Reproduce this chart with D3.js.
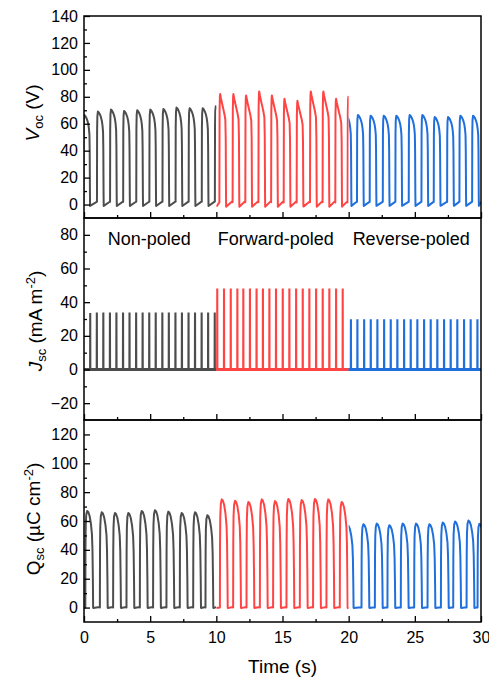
<!DOCTYPE html>
<html>
<head>
<meta charset="utf-8">
<script src="https://cdn.jsdelivr.net/npm/d3@7"></script>
<style>
body { margin: 0; background: #fff; }
svg text { font-family: "Liberation Sans", Arial, sans-serif; fill: #000; }
</style>
</head>
<body>
<svg width="489" height="684"></svg>
<script>
// ---- values ----
const timeTicks = [0, 5, 10, 15, 20, 25, 30];
const timeMinor = [2.5, 7.5, 12.5, 17.5, 22.5, 27.5];
const segments = [[0, 10], [10, 20], [20, 30]];
const segNames = ["Non-poled", "Forward-poled", "Reverse-poled"];
const segLabelAt = [1.8, 10.1, 20.3];
const colors = ["#4d4d4d", "#ff4444", "#1f6fdc"];

// open-circuit voltage (V): rise time of each pulse and its peak
const vocTicks = [0, 20, 40, 60, 80, 100, 120, 140];
const vocMinor = [10, 30, 50, 70, 90, 110, 130];
const vocRise = [
    [-0.05, 0.98, 1.97, 2.96, 3.95, 4.94, 5.93, 6.92, 7.91, 8.90, 9.89],
    [10.23, 11.23, 12.19, 13.18, 14.14, 15.09, 16.07, 17.08, 18.03, 18.99, 19.92],
    [19.7, 20.63, 21.59, 22.58, 23.53, 24.54, 25.5, 26.43, 27.44, 28.37, 29.33]
];
const vocPeak = [
    [66.5, 69, 70.5, 69.5, 70, 70.5, 71, 72, 71.5, 71.5, 73],
    [82, 82, 81, 84, 81, 78.5, 77, 84, 84, 78.5, 80],
    [67, 66.5, 66, 66, 66, 66.5, 66.5, 65, 65, 66, 66]
];
// pulse outlines: [seconds after rise, fraction of peak]
const roundShape = [[0, 0.03], [0.01, 0.8], [0.03, 0.95], [0.07, 1.0], [0.14, 0.99], [0.22, 0.97],
    [0.3, 0.94], [0.37, 0.9], [0.42, 0.85], [0.46, 0.78], [0.48, 0.6], [0.5, 0.1], [0.51, -0.015]];
const peakedShape = [[0, 0.02], [0.015, 0.85], [0.04, 0.98], [0.06, 1.0], [0.12, 0.96], [0.25, 0.89],
    [0.38, 0.82], [0.45, 0.77], [0.48, 0.6], [0.5, 0.1], [0.51, -0.02]];
const vocBaseEnd = 0.03;

// short-circuit current density (mA m-2): spike times and heights
const jscTicks = [-20, 0, 20, 40, 60, 80];
const jscMinor = [-10, 10, 30, 50, 70];
const jscTime = [
    [0.47, 0.97, 1.46, 1.96, 2.45, 2.95, 3.44, 3.94, 4.43, 4.93, 5.42, 5.92, 6.41, 6.91, 7.40, 7.90, 8.39, 8.89, 9.38, 9.88],
    [10.07, 10.58, 11.09, 11.59, 12.04, 12.54, 13.04, 13.52, 14.01, 14.51, 15.02, 15.52, 16.03, 16.53, 17.03, 17.54, 18.04, 18.54, 19.05, 19.55],
    [20.17, 20.66, 21.17, 21.67, 22.17, 22.68, 23.18, 23.68, 24.19, 24.69, 25.19, 25.7, 26.2, 26.7, 27.21, 27.71, 28.21, 28.72, 29.22, 29.73]
];
const jscPeak = [
    [33, 33.3, 33.3, 33.3, 33.3, 33.3, 33.3, 33.3, 33.3, 33.3, 33.3, 33.3, 33.3, 33.3, 33.3, 33.3, 33.3, 33.3, 33.3, 33.3],
    [47.5, 47.5, 47.5, 47.5, 47.5, 47.5, 47.5, 47.5, 47.5, 47.5, 47.5, 47.5, 47.5, 47.5, 47.5, 47.5, 47.5, 47.5, 47.5, 47.5],
    [29.3, 29.3, 29.3, 29.3, 29.3, 29.3, 29.3, 29.3, 29.3, 29.3, 29.3, 29.3, 29.3, 29.3, 29.3, 29.3, 29.3, 29.3, 29.3, 29.3]
];
const jscBase = 0;

// short-circuit charge (uC cm-2)
const qscTicks = [0, 20, 40, 60, 80, 100, 120];
const qscMinor = [10, 30, 50, 70, 90, 110];
const qscRise = [
    [0.1, 1.2, 2.2, 3.21, 4.22, 5.22, 6.23, 7.24, 8.25, 9.18],
    [10.27, 11.27, 12.28, 13.29, 14.29, 15.3, 16.31, 17.31, 18.32, 19.33],
    [19.78, 20.97, 21.98, 22.93, 23.94, 24.95, 25.96, 26.97, 27.9, 28.91, 29.74]
];
const qscPeak = [
    [67, 66, 65.5, 65.5, 67, 67.5, 66.5, 65.5, 66, 64],
    [75, 74, 73.2, 75, 73.8, 75.2, 74.5, 75.2, 75, 73.2],
    [57, 57.8, 58.2, 57.1, 58.2, 58.2, 57.8, 58.9, 59.6, 60.3, 58]
];
const chargeShape = [[0, 0.0], [0.01, 0.6], [0.03, 0.85], [0.07, 0.96], [0.14, 1.0], [0.22, 0.99],
    [0.32, 0.95], [0.42, 0.87], [0.5, 0.76], [0.54, 0.6], [0.57, 0.3], [0.59, 0.0], [0.6, -0.005]];
const qscBaseEnd = 0.005;

// ---- layout ----
const svg = d3.select("svg");
const left = 84, right = 481, panelH = 202;
const tops = [16, 218, 420];

const x = d3.scaleLinear().domain([0, 30]).range([left, right]);
const yV = d3.scaleLinear().domain([-10, 140]).range([tops[0] + panelH, tops[0]]);
const yJ = d3.scaleLinear().domain([-30, 90]).range([tops[1] + panelH, tops[1]]);
const yQ = d3.scaleLinear().domain([-10, 130]).range([tops[2] + panelH, tops[2]]);

// clip each poling state to its own time window
const defs = svg.append("defs");
segments.forEach((s, i) => {
    defs.append("clipPath").attr("id", "seg" + i)
        .append("rect")
        .attr("x", x(s[0])).attr("y", 0)
        .attr("width", x(s[1]) - x(s[0])).attr("height", 684);
});

function pulses(rises, peaks, shape, seg, baseEnd) {
    const pts = [];
    const last = shape[shape.length - 1];
    if (rises[0] > seg[0]) pts.push([seg[0], last[1] * peaks[0]]);
    rises.forEach((r, i) => {
        shape.forEach(([dt, f]) => pts.push([r + dt, f * peaks[i]]));
        const next = i < rises.length - 1 ? rises[i + 1] - 0.02 : seg[1];
        if (next > r + last[0]) pts.push([next, baseEnd * peaks[i]]);
    });
    return pts;
}

function spikes(times, heights, seg, base) {
    const pts = [[seg[0], base]];
    times.forEach((t, i) => {
        pts.push([t - 0.012, base], [t - 0.004, heights[i]], [t + 0.004, heights[i]], [t + 0.012, base]);
    });
    pts.push([seg[1], base]);
    return pts;
}

function drawPanel(k, y, ticks, minor) {
    const g = svg.append("g");
    const bottom = tops[k] + panelH;

    const xAxis = g.append("g").attr("transform", `translate(0,${bottom})`)
        .call(d3.axisBottom(x).tickValues(timeTicks).tickSize(-6).tickPadding(10)
            .tickFormat(k === 2 ? d3.format("d") : ""));
    g.append("g").attr("transform", `translate(0,${bottom})`)
        .call(d3.axisBottom(x).tickValues(timeMinor).tickSize(-3).tickFormat(""));

    g.append("g").attr("transform", `translate(${left},0)`)
        .call(d3.axisLeft(y).tickValues(ticks).tickSize(-6).tickPadding(6));
    g.append("g").attr("transform", `translate(${left},0)`)
        .call(d3.axisLeft(y).tickValues(minor).tickSize(-3).tickFormat(""));

    g.selectAll(".domain").remove();
    g.selectAll(".tick line").attr("stroke", "#000").attr("stroke-width", 1.3);
    g.selectAll(".tick text").attr("font-size", 16).attr("font-family", '"Liberation Sans", Arial, sans-serif');

    g.append("rect")
        .attr("x", left).attr("y", tops[k])
        .attr("width", right - left).attr("height", panelH)
        .attr("fill", "none").attr("stroke", "#000").attr("stroke-width", 1.5);
    return g;
}

const lineV = d3.line().x(d => x(d[0])).y(d => yV(d[1]));
const lineJ = d3.line().x(d => x(d[0])).y(d => yJ(d[1]));
const lineQ = d3.line().x(d => x(d[0])).y(d => yQ(d[1]));

const plots = svg.append("g");
segments.forEach((seg, i) => {
    plots.append("path")
        .attr("d", lineV(pulses(vocRise[i], vocPeak[i], i === 1 ? peakedShape : roundShape, seg, vocBaseEnd)))
        .attr("clip-path", `url(#seg${i})`)
        .attr("fill", "none").attr("stroke", colors[i]).attr("stroke-width", 2)
        .attr("stroke-linejoin", "round");

    plots.append("line")
        .attr("x1", x(seg[0])).attr("x2", x(seg[1]))
        .attr("y1", yJ(jscBase)).attr("y2", yJ(jscBase))
        .attr("stroke", colors[i]).attr("stroke-width", 3);
    plots.append("path")
        .attr("d", lineJ(spikes(jscTime[i], jscPeak[i], seg, jscBase)))
        .attr("fill", "none").attr("stroke", colors[i]).attr("stroke-width", 2);

    plots.append("path")
        .attr("d", lineQ(pulses(qscRise[i], qscPeak[i], chargeShape, seg, qscBaseEnd)))
        .attr("clip-path", `url(#seg${i})`)
        .attr("fill", "none").attr("stroke", colors[i]).attr("stroke-width", 2)
        .attr("stroke-linejoin", "round");
});

drawPanel(0, yV, vocTicks, vocMinor);
drawPanel(1, yJ, jscTicks, jscMinor);
drawPanel(2, yQ, qscTicks, qscMinor);

// state labels in the middle panel
svg.append("g").selectAll("text")
    .data(segNames)
    .join("text")
    .attr("x", (d, i) => x(segLabelAt[i]))
    .attr("y", yJ(74))
    .attr("font-size", 18)
    .text(d => d);

// axis titles
const tV = svg.append("text").attr("transform", "translate(39,113) rotate(-90)")
    .attr("text-anchor", "middle").attr("font-size", 19);
tV.append("tspan").attr("font-style", "italic").text("V");
tV.append("tspan").attr("font-size", 13).attr("dy", 4).text("oc");
tV.append("tspan").attr("dy", -4).text(" (V)");

const tJ = svg.append("text").attr("transform", "translate(42,321) rotate(-90)")
    .attr("text-anchor", "middle").attr("font-size", 19);
tJ.append("tspan").attr("font-style", "italic").text("J");
tJ.append("tspan").attr("font-size", 13).attr("dy", 4).text("sc");
tJ.append("tspan").attr("dy", -4).text(" (mA m");
tJ.append("tspan").attr("font-size", 13).attr("dy", -7).text("-2");
tJ.append("tspan").attr("dy", 7).text(")");

const tQ = svg.append("text").attr("transform", "translate(40,519) rotate(-90)")
    .attr("text-anchor", "middle").attr("font-size", 19);
tQ.append("tspan").text("Q");
tQ.append("tspan").attr("font-size", 13).attr("dy", 4).text("sc");
tQ.append("tspan").attr("dy", -4).text(" (\u00b5C cm");
tQ.append("tspan").attr("font-size", 13).attr("dy", -7).text("-2");
tQ.append("tspan").attr("dy", 7).text(")");

svg.append("text")
    .attr("x", (left + right) / 2).attr("y", 673)
    .attr("text-anchor", "middle").attr("font-size", 19)
    .text("Time (s)");
</script>
</body>
</html>
